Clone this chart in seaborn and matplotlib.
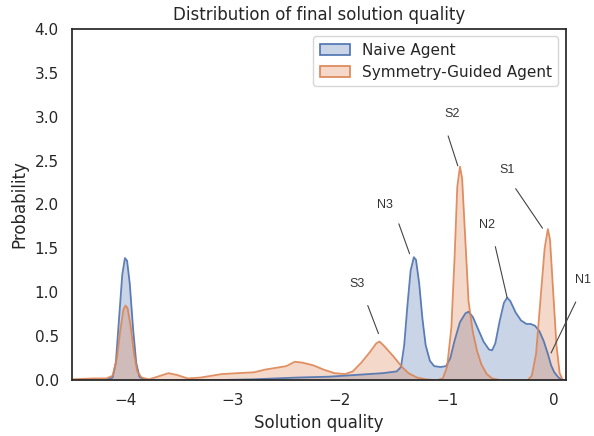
import matplotlib
matplotlib.use("Agg")
import matplotlib.pyplot as plt
from matplotlib.patches import Patch
import seaborn as sns

# density curves
naive_x = [-4.5, -4.18, -4.12, -4.09, -4.06, -4.03, -4.005, -3.985, -3.96, -3.93, -3.9, -3.87, -3.82,
           -3.2, -2.8, -2.4, -2.1, -1.85, -1.6, -1.47, -1.43, -1.40, -1.37, -1.34, -1.31, -1.29,
           -1.26, -1.23, -1.2, -1.16, -1.12, -1.06, -1.01, -0.97, -0.93, -0.88, -0.83, -0.80,
           -0.76, -0.71, -0.66, -0.61, -0.58, -0.55, -0.51, -0.47, -0.44, -0.41, -0.36, -0.31,
           -0.26, -0.22, -0.18, -0.14, -0.10, -0.06, -0.03, 0.0, 0.04, 0.08, 0.11]
naive_density = [0, 0, 0.03, 0.2, 0.7, 1.2, 1.39, 1.36, 1.1, 0.6, 0.2, 0.04, 0.0,
                 0.0, 0.01, 0.03, 0.04, 0.06, 0.08, 0.1, 0.15, 0.4, 0.85, 1.25, 1.40, 1.37,
                 1.1, 0.7, 0.4, 0.22, 0.16, 0.15, 0.16, 0.25, 0.45, 0.66, 0.76, 0.78,
                 0.72, 0.58, 0.44, 0.35, 0.34, 0.42, 0.67, 0.88, 0.94, 0.9, 0.77, 0.68,
                 0.64, 0.64, 0.62, 0.56, 0.45, 0.3, 0.17, 0.09, 0.03, 0.0, 0.0]

sym_x = [-4.5, -4.3, -4.18, -4.12, -4.08, -4.05, -4.02, -4.0, -3.98, -3.95, -3.92, -3.89, -3.85,
         -3.78, -3.7, -3.6, -3.52, -3.42, -3.3, -3.2, -3.1, -2.95, -2.8, -2.7, -2.6, -2.5,
         -2.42, -2.35, -2.25, -2.15, -2.05, -1.95, -1.88, -1.8, -1.72, -1.66, -1.63, -1.58,
         -1.5, -1.42, -1.36, -1.28, -1.2, -1.1, -1.04, -1.0, -0.96, -0.93, -0.905, -0.88,
         -0.86, -0.83, -0.80, -0.76, -0.72, -0.68, -0.63, -0.58, -0.5, -0.25, -0.21, -0.17,
         -0.13, -0.09, -0.06, -0.04, -0.01, 0.02, 0.05, 0.08, 0.11]
sym_density = [0.01, 0.02, 0.02, 0.05, 0.25, 0.55, 0.8, 0.85, 0.82, 0.6, 0.3, 0.1, 0.03,
               0.01, 0.04, 0.08, 0.06, 0.02, 0.03, 0.05, 0.07, 0.08, 0.09, 0.12, 0.14, 0.16,
               0.21, 0.2, 0.17, 0.12, 0.08, 0.07, 0.1, 0.2, 0.32, 0.42, 0.44, 0.38,
               0.27, 0.15, 0.08, 0.03, 0.01, 0.0, 0.02, 0.15, 0.6, 1.4, 2.2, 2.43,
               2.3, 1.6, 0.9, 0.55, 0.33, 0.18, 0.07, 0.02, 0.0, 0.0, 0.05, 0.3,
               0.9, 1.5, 1.72, 1.6, 1.0, 0.4, 0.08, 0.0, 0.0]

labels = ["S2", "S1", "N3", "N2", "S3", "N1"]
label_pos = [(-0.95, 3.03), (-0.44, 2.39), (-1.58, 1.99), (-0.63, 1.77), (-1.84, 1.10), (0.27, 1.14)]
line_start = [(-0.99, 2.78), (-0.36, 2.18), (-1.45, 1.78), (-0.55, 1.52), (-1.74, 0.85), (0.20, 0.89)]
line_tip = [(-0.90, 2.44), (-0.11, 1.73), (-1.35, 1.44), (-0.44, 0.94), (-1.64, 0.53), (-0.03, 0.31)]

sns.set_theme(context="notebook", style="white")
blue, orange = sns.color_palette("deep")[0], sns.color_palette("deep")[1]

fig, ax = plt.subplots(figsize=(5.94, 4.36), dpi=100)
fig.subplots_adjust(left=0.121, right=0.953, top=0.934, bottom=0.128)

for xs, ys, c in [(naive_x, naive_density, blue), (sym_x, sym_density, orange)]:
    ax.fill_between(xs, ys, color=c, alpha=0.3, linewidth=0)
    sns.lineplot(x=xs, y=ys, color=c, linewidth=1.3, alpha=0.9, ax=ax, sort=False)

handles = [Patch(facecolor=(*blue, 0.3), edgecolor=blue, linewidth=1.2, label="Naive Agent"),
           Patch(facecolor=(*orange, 0.3), edgecolor=orange, linewidth=1.2, label="Symmetry-Guided Agent")]
ax.legend(handles=handles, loc="upper right", fontsize=11)

for lab, tp, st, tip in zip(labels, label_pos, line_start, line_tip):
    ax.text(tp[0], tp[1], lab, ha="center", va="center", fontsize=9,
            family="Liberation Sans", color="#333333")
    ax.annotate("", xy=tip, xytext=st,
                arrowprops=dict(arrowstyle="-", color="#444444", lw=0.8,
                                shrinkA=0, shrinkB=0))

ax.set_xlim(-4.5, 0.11)
ax.set_ylim(0, 4.0)
ax.set_yticks([0, 0.5, 1.0, 1.5, 2.0, 2.5, 3.0, 3.5, 4.0])
ax.set_xticks([-4, -3, -2, -1, 0])
ax.set_xlabel("Solution quality")
ax.set_ylabel("Probability")
ax.set_title("Distribution of final solution quality")

fig.savefig("out.png", dpi=100)
